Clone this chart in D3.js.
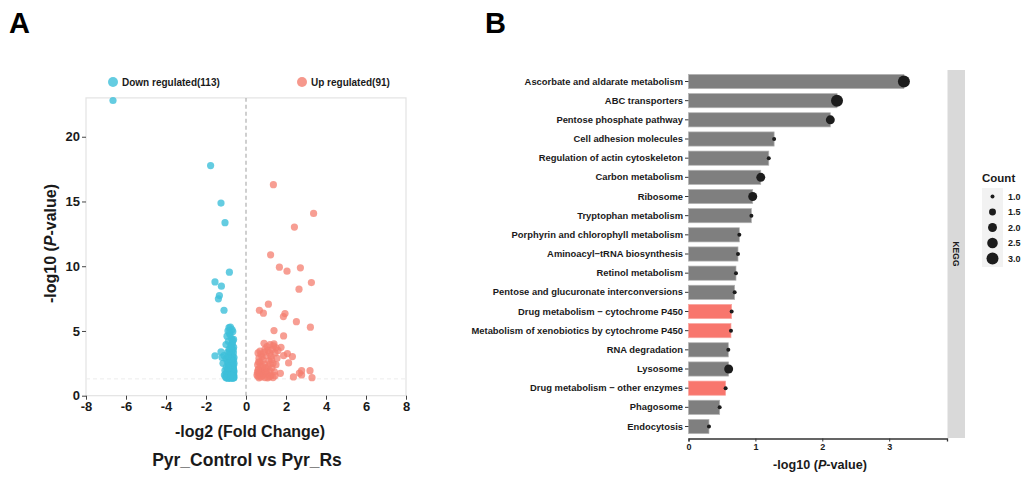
<!DOCTYPE html>
<html>
<head>
<meta charset="utf-8">
<script src="https://cdn.jsdelivr.net/npm/d3@7"></script>
<style>
  body { margin: 0; background: #fff; }
  text { font-family: "Liberation Sans", Arial, sans-serif; font-weight: bold; fill: #1a1a1a; }
</style>
</head>
<body>
<div id="chart"></div>
<script>
// ---- panel A data: volcano points [log2FC, -log10 p]
const downPoints = [
  [-6.65,22.8],[-1.77,17.77],[-1.25,14.88],[-1.05,13.36],[-0.83,9.54],[-1.55,8.79],[-1.23,8.46],
  [-1.33,7.73],[-1.38,7.48],[-1.1,6.6],[-1.55,3.07],[-1.25,3.38],
  [-0.85,5.25],[-0.78,5.3],[-0.7,5.1],[-0.9,5.0],[-0.66,4.95],[-0.8,4.7],[-0.62,4.35],[-0.95,4.6],[-0.72,4.4],[-0.88,4.2],
  [-0.68,4.05],[-0.76,3.9],[-0.62,3.75],[-1.0,3.95],[-0.84,3.6],[-0.7,3.5],[-0.63,3.3],[-0.92,3.35],[-0.78,3.2],[-1.1,3.1],
  [-0.66,3.05],[-0.85,2.95],[-0.72,2.9],[-1.0,2.85],[-0.62,2.75],[-0.8,2.7],[-0.93,2.6],[-0.68,2.55],[-1.15,2.5],[-0.75,2.45],
  [-0.62,2.35],[-0.86,2.3],[-0.7,2.25],[-0.98,2.2],[-0.64,2.15],[-0.8,2.1],[-0.9,2.05],[-0.72,2.0],[-0.61,1.95],[-1.05,1.95],
  [-0.84,1.9],[-0.67,1.88],[-0.76,1.85],[-0.95,1.8],[-0.62,1.78],[-0.88,1.75],[-0.7,1.72],[-0.8,1.7],[-1.0,1.68],[-0.65,1.65],
  [-0.74,1.62],[-0.9,1.6],[-0.61,1.58],[-0.83,1.56],[-0.69,1.55],[-0.96,1.52],[-0.77,1.5],[-0.63,1.49],[-0.87,1.47],[-0.72,1.46],
  [-1.02,1.45],[-0.66,1.44],[-0.8,1.42],[-0.93,1.41],[-0.6,1.4],[-0.75,1.39],[-0.85,1.38],[-0.68,1.37],[-0.98,1.36],[-0.62,1.36],
  [-0.78,1.35],[-0.9,1.35],[-0.71,1.4],[-0.64,1.52],[-0.82,1.6],[-0.67,1.72],[-0.73,1.9],[-0.63,2.05],[-0.77,2.35],[-0.66,2.65],
  [-0.7,3.15],[-0.64,3.55],[-0.74,3.7],[-0.66,4.25],[-0.82,4.85],[-0.6,2.95],[-0.69,2.4],[-0.86,2.55],[-0.61,1.85],[-0.79,1.53],
  [-0.94,1.9],[-1.08,1.6],[-0.65,1.38],[-0.73,1.58],[-0.88,2.15],[-0.6,2.5],[-0.76,2.8],[-0.92,3.05],[-1.2,2.95],[-0.83,3.45],
  [-0.7,3.85]
];
const upPoints = [
  [1.37,16.3],[3.38,14.08],[2.42,13.02],[1.23,10.88],[1.67,9.93],[2.05,9.62],[2.72,9.88],[3.27,8.74],[2.65,8.23],[1.12,7.07],
  [0.67,6.6],[0.87,6.37],[1.95,6.34],[1.87,6.11],[2.52,5.72],[3.22,5.29],[1.4,5.03],[1.88,4.62],[1.75,3.74],[2.07,3.25],
  [1.88,3.1],[2.32,3.02],[2.13,2.53],[1.72,1.73],[2.37,1.45],[2.78,1.93],[2.67,1.75],[3.2,1.93],[3.3,1.39],[2.78,1.6],
  [0.6,3.3],[0.75,3.2],[0.9,4.05],[1.05,3.8],[1.2,3.95],[1.4,4.0],[1.5,3.7],[1.3,3.55],[1.1,3.5],[0.95,3.6],
  [0.65,2.9],[0.8,3.0],[1.0,3.1],[1.25,3.05],[1.45,3.3],[1.55,2.9],[0.7,2.6],[0.85,2.75],[1.15,2.7],[1.35,2.5],
  [0.58,2.4],[0.72,2.3],[0.92,2.45],[1.1,2.2],[1.3,2.15],[1.5,2.4],[0.62,2.05],[0.8,2.0],[1.0,1.95],[1.2,1.9],
  [1.42,1.85],[0.57,1.8],[0.68,1.7],[0.88,1.75],[1.05,1.65],[1.25,1.6],[1.45,1.55],[0.6,1.5],[0.75,1.45],[0.95,1.4],
  [1.15,1.45],[1.35,1.4],[0.65,1.38],[0.85,1.6],[1.08,1.38],[0.55,1.6],[0.72,1.9],[0.98,2.15],[1.2,2.45],[0.63,2.6],
  [0.82,2.25],[1.38,3.85],[1.6,3.5],[0.9,3.35],[1.18,3.3],[0.7,3.45],[1.28,2.8],[0.78,1.55],[1.02,1.8],[0.6,1.95],
  [1.22,1.5]
];
const volcanoXTicks = [-8,-6,-4,-2,0,2,4,6,8];
const volcanoYTicks = [0,5,10,15,20];

// ---- panel B data: KEGG enrichment
const pathways = [
  "Ascorbate and aldarate metabolism","ABC transporters","Pentose phosphate pathway","Cell adhesion molecules",
  "Regulation of actin cytoskeleton","Carbon metabolism","Ribosome","Tryptophan metabolism",
  "Porphyrin and chlorophyll metabolism","Aminoacyl\u2212tRNA biosynthesis","Retinol metabolism",
  "Pentose and glucuronate interconversions","Drug metabolism \u2212 cytochrome P450",
  "Metabolism of xenobiotics by cytochrome P450","RNA degradation","Lysosome",
  "Drug metabolism \u2212 other enzymes","Phagosome","Endocytosis"
];
const pathwayP = [3.22,2.22,2.12,1.28,1.2,1.08,0.96,0.94,0.76,0.74,0.71,0.69,0.645,0.635,0.595,0.6,0.555,0.466,0.306];
const pathwayCount = [3,3,2,1,1,2,2,1,1,1,1,1,1,1,1,2,1,1,1];
const highlighted = ["Drug metabolism \u2212 cytochrome P450","Metabolism of xenobiotics by cytochrome P450","Drug metabolism \u2212 other enzymes"];
const countBreaks = [1.0,1.5,2.0,2.5,3.0];
const pTicks = [0,1,2,3];

const svg = d3.select("#chart").append("svg")
  .attr("width", 1027).attr("height", 477);
svg.append("rect").attr("width", 1027).attr("height", 477).attr("fill", "#fff");

svg.append("text").attr("x", 9).attr("y", 33).style("font-size", "29px").style("fill", "#000").text("A");
svg.append("text").attr("x", 485).attr("y", 33).style("font-size", "29px").style("fill", "#000").text("B");

// ================= Panel A =================
const blue = "#3DBFD9", red = "#F47E6F";
const x = d3.scaleLinear().domain([-8, 8]).range([86, 406]);
const y = d3.scaleLinear().domain([0, 23]).range([395.7, 97.9]);

const gA = svg.append("g");
gA.append("rect").attr("x", 86).attr("y", 97.9).attr("width", 320).attr("height", 297.8)
  .attr("fill", "none").attr("stroke", "#e3e3e3").attr("stroke-width", 1.2);

gA.append("line").attr("x1", x(-8)).attr("x2", x(8)).attr("y1", y(1.3)).attr("y2", y(1.3))
  .attr("stroke", "#ececec").attr("stroke-dasharray", "4,3");
gA.append("line").attr("x1", x(0)).attr("x2", x(0)).attr("y1", y(0)).attr("y2", y(23))
  .attr("stroke", "#a8a8a8").attr("stroke-width", 1.1).attr("stroke-dasharray", "4,3");

gA.selectAll("circle.down").data(downPoints).join("circle").attr("class", "down")
  .attr("cx", d => x(d[0])).attr("cy", d => y(d[1])).attr("r", 3.6)
  .attr("fill", blue).attr("fill-opacity", 0.8);
gA.selectAll("circle.up").data(upPoints).join("circle").attr("class", "up")
  .attr("cx", d => x(d[0])).attr("cy", d => y(d[1])).attr("r", 3.6)
  .attr("fill", red).attr("fill-opacity", 0.75);

const axA = gA.append("g").attr("transform", "translate(0,395.7)")
  .call(d3.axisBottom(x).tickValues(volcanoXTicks).tickFormat(d => String(d)).tickSize(4).tickPadding(2));
const ayA = gA.append("g").attr("transform", "translate(86,0)")
  .call(d3.axisLeft(y).tickValues(volcanoYTicks).tickFormat(d => String(d)).tickSize(4).tickPadding(2));
[axA, ayA].forEach(a => {
  a.select(".domain").remove();
  a.selectAll(".tick line").attr("stroke", "#444");
  a.selectAll(".tick text").style("font-size", "13px").style("font-family", null).attr("fill", "#1a1a1a");
});

gA.append("text").attr("transform", "translate(56,243.5) rotate(-90)").attr("text-anchor", "middle")
  .style("font-size", "16px")
  .call(t => {
    t.append("tspan").text("-log10 (");
    t.append("tspan").style("font-style", "italic").text("P");
    t.append("tspan").text("-value)");
  });
gA.append("text").attr("x", 250).attr("y", 437).attr("text-anchor", "middle")
  .style("font-size", "16px").text("-log2 (Fold Change)");
gA.append("text").attr("x", 247).attr("y", 466).attr("text-anchor", "middle")
  .style("font-size", "17.5px").text("Pyr_Control vs Pyr_Rs");

const legA = [[113, blue, "Down regulated(" + downPoints.length + ")"], [302, red, "Up regulated(" + upPoints.length + ")"]];
legA.forEach(l => {
  gA.append("circle").attr("cx", l[0]).attr("cy", 82).attr("r", 5).attr("fill", l[1]).attr("fill-opacity", 0.8);
  gA.append("text").attr("x", l[0] + 9).attr("y", 85.5).style("font-size", "10px").text(l[2]);
});

// ================= Panel B =================
const xb = d3.scaleLinear().domain([0, 3.864]).range([688.5, 947]);
const yb = d3.scaleBand().domain(pathways).range([70, 438]).paddingInner(0.26).paddingOuter(0.23);
const area = d3.scaleLinear().domain([1, 3]).range([4, 36]);
const rSize = c => Math.sqrt(area(c));

const rows = pathways.map((p, i) => ({name: p, p: pathwayP[i], count: pathwayCount[i]}));
const gB = svg.append("g");

gB.selectAll("rect.bar").data(rows).join("rect").attr("class", "bar")
  .attr("x", xb(0)).attr("y", d => yb(d.name)).attr("width", d => xb(d.p) - xb(0))
  .attr("height", yb.bandwidth())
  .attr("fill", d => highlighted.includes(d.name) ? "#F8766D" : "#7F7F7F")
  .attr("stroke", d => highlighted.includes(d.name) ? "#f9a6a0" : "#b3b3b3").attr("stroke-width", 0.7);

gB.selectAll("circle.cnt").data(rows).join("circle").attr("class", "cnt")
  .attr("cx", d => xb(d.p)).attr("cy", d => yb(d.name) + yb.bandwidth() / 2)
  .attr("r", d => rSize(d.count)).attr("fill", "#1c1c1c");

const ayB = gB.append("g").attr("transform", "translate(688.5,0)")
  .call(d3.axisLeft(yb).tickSize(3.5).tickPadding(2));
ayB.select(".domain").remove();
ayB.selectAll(".tick line").attr("stroke", "#333");
ayB.selectAll(".tick text").style("font-size", "9.4px").style("font-family", null).attr("fill", "#1a1a1a");

const axB = gB.append("g").attr("transform", "translate(0,438.5)")
  .call(d3.axisBottom(xb).tickValues(pTicks).tickFormat(d3.format("d")).tickSize(3).tickPadding(2));
axB.select(".domain").attr("stroke", "#333").attr("stroke-width", 1.3);
axB.selectAll(".tick line").attr("stroke", "#333");
axB.selectAll(".tick text").style("font-size", "9px").style("font-family", null).attr("fill", "#1a1a1a");

gB.append("text").attr("x", 820).attr("y", 469).attr("text-anchor", "middle")
  .style("font-size", "12.6px")
  .call(t => {
    t.append("tspan").text("-log10 (");
    t.append("tspan").style("font-style", "italic").text("P");
    t.append("tspan").text("-value)");
  });

// facet strip
gB.append("rect").attr("x", 947.5).attr("y", 70).attr("width", 17.5).attr("height", 368)
  .attr("fill", "#d9d9d9");
gB.append("text").attr("transform", "translate(953,254) rotate(90)").attr("text-anchor", "middle")
  .style("font-size", "8.5px").text("KEGG");

// size legend
gB.append("text").attr("x", 982).attr("y", 182).style("font-size", "11.5px").text("Count");
gB.append("rect").attr("x", 982).attr("y", 188).attr("width", 21).attr("height", 79).attr("fill", "#f2f2f2");
countBreaks.forEach((c, i) => {
  const cy = 196.5 + i * 15.5;
  gB.append("circle").attr("cx", 992.5).attr("cy", cy).attr("r", rSize(c)).attr("fill", "#1c1c1c");
  gB.append("text").attr("x", 1008).attr("y", cy + 3.2).style("font-size", "9px").text(c.toFixed(1));
});
</script>
</body>
</html>
